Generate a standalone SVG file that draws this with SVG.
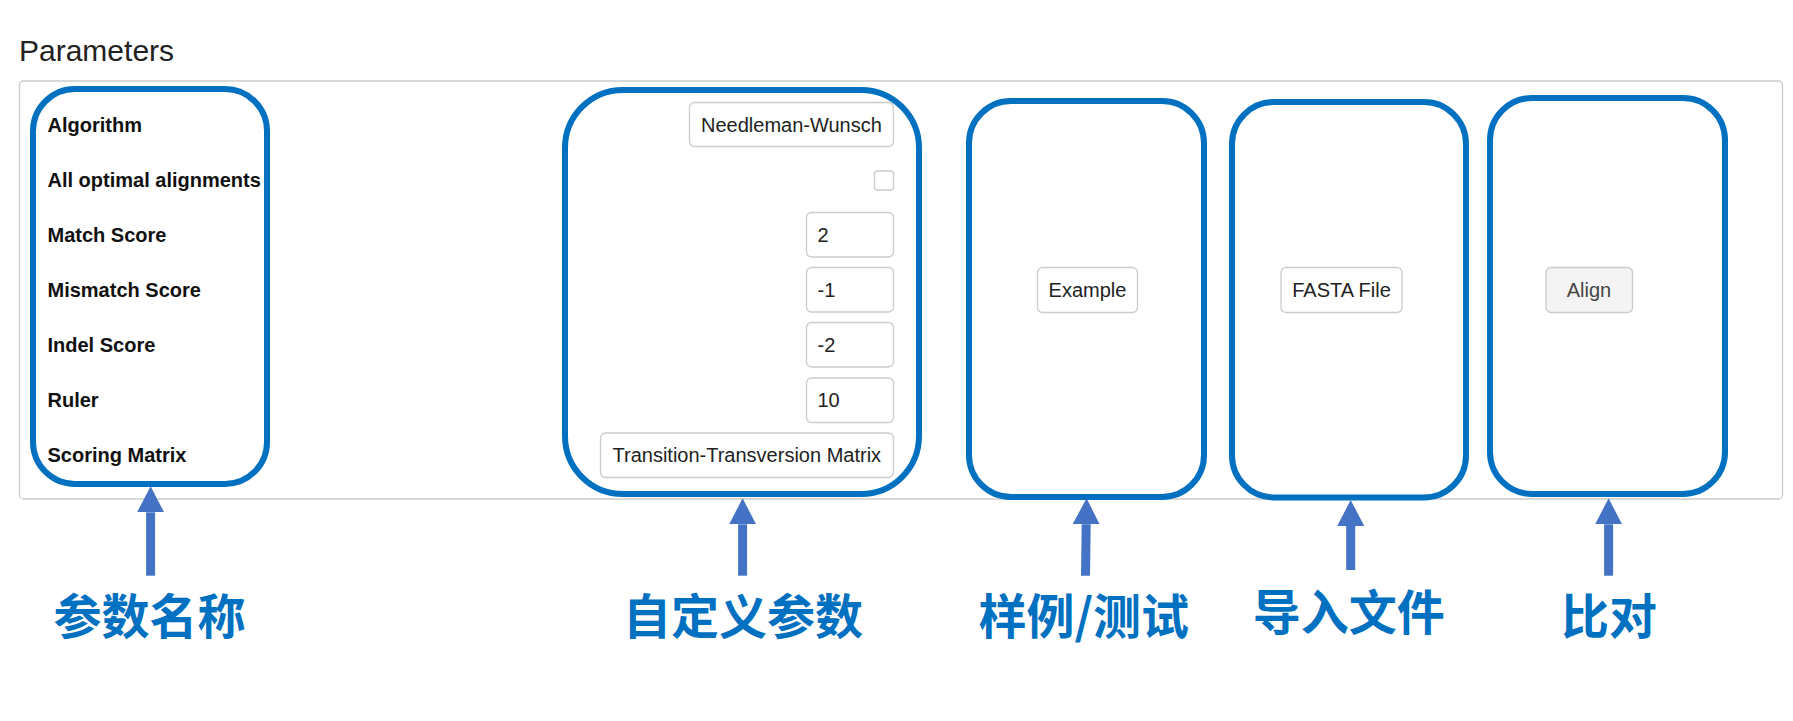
<svg xmlns="http://www.w3.org/2000/svg" width="1793" height="721" viewBox="0 0 1793 721">
<defs>
<style>
.title{font-family:"Liberation Sans",Arial,sans-serif;font-size:30px;fill:#222}
.lbl{font-family:"Liberation Sans",Arial,sans-serif;font-size:20px;font-weight:bold;fill:#111}
.inp{fill:#fff;stroke:#ccc;stroke-width:1.3}
.itxt{font-family:"Liberation Sans",Arial,sans-serif;font-size:20px;fill:#222}
.btn{fill:#fff;stroke:#ccc;stroke-width:1.3}
.hl{fill:none;stroke:#0070C0;stroke-width:6}
.cn{font-family:"Noto Sans CJK SC","Noto Sans CJK JP",sans-serif;font-size:48px;font-weight:bold;fill:#0070C0;text-anchor:middle}
.arr{stroke:#4472C4;stroke-width:9;fill:none;marker-end:url(#head)}
</style>
<marker id="head" markerUnits="userSpaceOnUse" markerWidth="27" markerHeight="27" refX="0" refY="13.5" orient="auto" viewBox="0 0 27 27">
<path d="M0,0 L26,13.5 L0,27 z" fill="#4472C4"/>
</marker>
</defs>
<rect width="1793" height="721" fill="#fff"/>
<text class="title" x="19" y="61">Parameters</text>
<g id="panel">
<rect x="19.5" y="81" width="1763" height="418" rx="4" fill="#fff" stroke="#ccc" stroke-width="1.3"/>
</g>
<g id="param-names">
<text class="lbl" x="47.5" y="131.5">Algorithm</text>
<text class="lbl" x="47.5" y="186.5">All optimal alignments</text>
<text class="lbl" x="47.5" y="241.5">Match Score</text>
<text class="lbl" x="47.5" y="296.5">Mismatch Score</text>
<text class="lbl" x="47.5" y="351.5">Indel Score</text>
<text class="lbl" x="47.5" y="406.5">Ruler</text>
<text class="lbl" x="47.5" y="461.5">Scoring Matrix</text>
<rect class="hl" x="33" y="89" width="234" height="395" rx="42"/>
</g>
<g id="custom-params">
<rect class="inp" x="689.5" y="102.5" width="204" height="44" rx="5"/>
<text class="itxt" x="701" y="131.5">Needleman-Wunsch</text>
<rect class="inp" x="874.5" y="171" width="19" height="19" rx="3" stroke="#bbb"/>
<rect class="inp" x="806.5" y="212.5" width="87" height="44.5" rx="5"/>
<text class="itxt" x="817.5" y="241.5">2</text>
<rect class="inp" x="806.5" y="267.5" width="87" height="44.5" rx="5"/>
<text class="itxt" x="817.5" y="296.5">-1</text>
<rect class="inp" x="806.5" y="322.5" width="87" height="44.5" rx="5"/>
<text class="itxt" x="817.5" y="351.5">-2</text>
<rect class="inp" x="806.5" y="378" width="87" height="44.5" rx="5"/>
<text class="itxt" x="817.5" y="406.5">10</text>
<rect class="inp" x="600.5" y="433" width="293" height="44.5" rx="5"/>
<text class="itxt" x="612.5" y="461.5">Transition-Transversion Matrix</text>
<rect class="hl" x="565" y="90" width="354" height="404" rx="58"/>
</g>
<g id="example">
<rect class="btn" x="1037.5" y="267.5" width="100" height="45" rx="5"/>
<text class="itxt" x="1087.5" y="296.5" text-anchor="middle">Example</text>
<rect class="hl" x="969" y="101" width="235" height="396" rx="42"/>
</g>
<g id="fasta">
<rect class="btn" x="1281" y="267.5" width="121" height="45" rx="5"/>
<text class="itxt" x="1341.5" y="296.5" text-anchor="middle">FASTA File</text>
<rect class="hl" x="1232" y="102" width="234" height="395.5" rx="42"/>
</g>
<g id="align">
<rect class="btn" x="1546" y="267.5" width="86.5" height="45" rx="5" style="fill:#f4f4f4"/>
<text class="itxt" x="1589" y="296.5" text-anchor="middle" style="fill:#444">Align</text>
<rect class="hl" x="1490" y="98" width="235" height="396" rx="42"/>
</g>
<g id="connectors">
<line class="arr" x1="150.6" y1="575.7" x2="150.6" y2="512.3"/>
<line class="arr" x1="742.6" y1="575.7" x2="742.6" y2="524.3"/>
<line class="arr" x1="1085.5" y1="575.7" x2="1086.2" y2="524.3"/>
<line class="arr" x1="1350.7" y1="570" x2="1350.7" y2="526"/>
<line class="arr" x1="1608.6" y1="575.7" x2="1608.6" y2="524.3"/>
</g>
<g id="captions">
<text class="cn" x="149.5" y="634">参数名称</text>
<text class="cn" x="743" y="634">自定义参数</text>
<text class="cn" x="1083.7" y="634">样例/测试</text>
<text class="cn" x="1348.7" y="629.5">导入文件</text>
<text class="cn" x="1609" y="634">比对</text>
</g>
</svg>
